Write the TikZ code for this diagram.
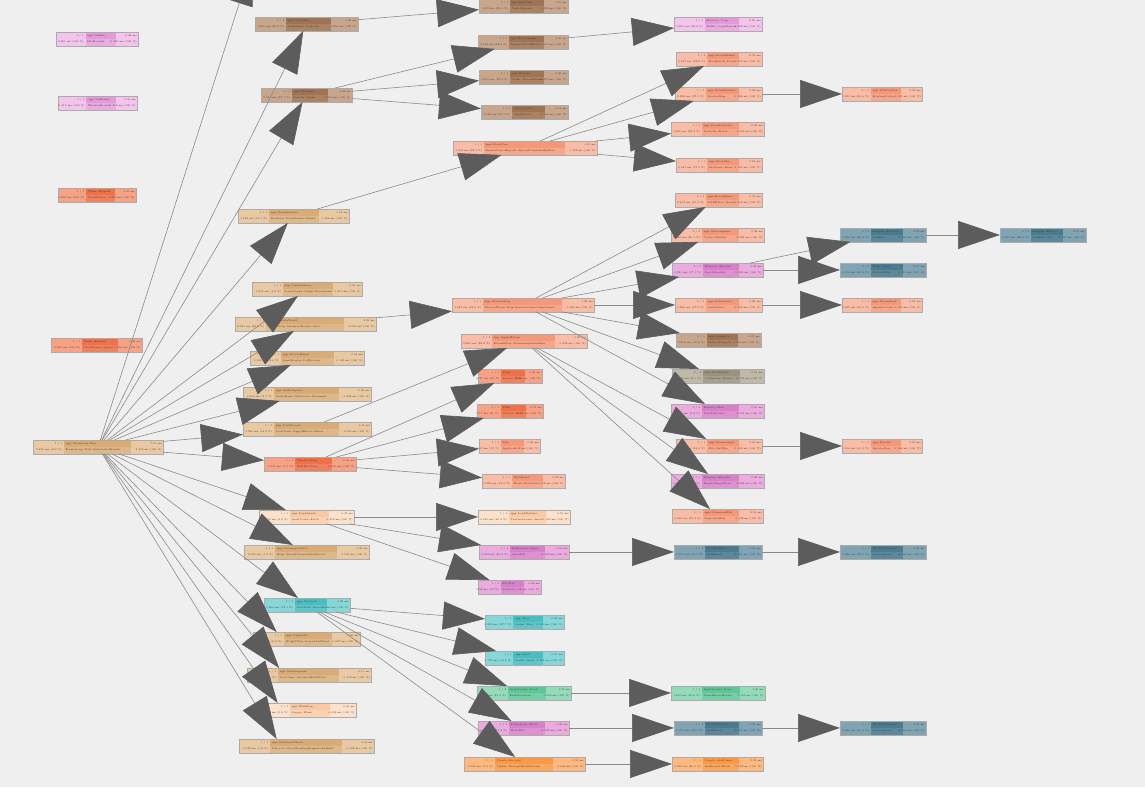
\documentclass[tikz,border=0pt]{standalone}
\usepackage{tikz}
\usetikzlibrary{arrows.meta}
\usepackage{xcolor}

\definecolor{bgc}{HTML}{EFEFEF}
\definecolor{boxline}{HTML}{ABABAB}
\definecolor{edgec}{HTML}{8A8A8A}
\definecolor{tipc}{HTML}{5C5C5C}
\definecolor{txtc}{HTML}{3A3A3A}
\newcommand{\pcolours}[4]{\definecolor{#1L}{HTML}{#2}\definecolor{#1M}{HTML}{#3}\definecolor{#1D}{HTML}{#4}}
\pcolours{pink}{F3C4EC}{EAACE0}{E39BD7}
\pcolours{magenta}{EAABDF}{DF8FD2}{D680C8}
\pcolours{salmon}{F9BCA6}{F7A689}{F39878}
\pcolours{red}{F7A285}{F1815D}{EE714A}
\pcolours{brown}{C7A68D}{AB8262}{9F7455}
\pcolours{tan}{E8C9A3}{DFB889}{D8AB77}
\pcolours{peach}{FDE2CB}{FCD3B2}{FAC8A2}
\pcolours{teal}{87D7D9}{5DC6C9}{4BBDC1}
\pcolours{steel}{80A4B3}{5B889A}{4D7B8E}
\pcolours{green}{93DBBB}{73CFA6}{60C697}
\pcolours{orange}{FDB980}{FBA65C}{FA9A49}
\pcolours{olive}{C0B9A8}{A79F8D}{9A927D}

\tikzset{
  pbox/.style={inner sep=0pt,minimum height=13.5pt,rectangle},
  ptxt/.style={inner sep=0pt,font=\fontsize{2.5}{6}\selectfont,text=txtc},
  call/.style={draw=edgec,line width=0.6pt,-{Triangle[length=42pt,width=28pt,color=tipc]}}
}

% name, x,y (top left), width, colour, left, function, detail, right
\newcommand{\prof}[8]{%
  \pgfmathsetmacro\pl{min(31,0.36*#3)}%
  \pgfmathsetmacro\pr{min(32,0.27*#3)}%
  \node[pbox,minimum width=#3pt,anchor=north west,fill=#4L] (#1) at (#2) {};
  \fill[#4M] ([xshift=\pl pt]#1.west) rectangle ([xshift=-\pr pt]#1.south east);
  \fill[#4D] ([xshift=\pl pt]#1.north west) rectangle ([xshift=-\pr pt]#1.east);
  \draw[boxline,line width=0.8pt] (#1.north west) rectangle (#1.south east);
  \node[ptxt,align=right,anchor=east] at ([xshift=\pl pt-1.5pt]#1.west) {#5};
  \node[ptxt,align=left,anchor=west] at ([xshift=\pl pt+1.5pt]#1.west) {#6\\#7};
  \node[ptxt,align=right,anchor=east] at ([xshift=-1.5pt]#1.east) {#8};
}

\begin{document}
\begin{tikzpicture}[x=1pt,y=-1pt,line cap=round]
\useasboundingbox (0,0) rectangle (1145,787);
\fill[bgc] (0,0) rectangle (1145,787);

\prof{A1}{56,32}{82}{pink}{1 / 1\\0.481 ms (100 \%)}{app::OnIdle}{IdleHandler}{0.48 ms\\0.481 ms (100 \%)}
\prof{A2}{58,96}{79}{pink}{1 / 1\\0.415 ms (100 \%)}{app::OnResize}{WindowEvents}{0.41 ms\\0.415 ms (100 \%)}
\prof{A3}{58,188}{78}{red}{1 / 1\\0.212 ms (100 \%)}{Timer::Elapsed}{ClockSource}{0.21 ms\\0.212 ms (100 \%)}
\prof{A4}{51,338}{91}{red}{1 / 1\\0.360 ms (100 \%)}{Timer::Elapsed}{ClockSource::Query}{0.36 ms\\0.360 ms (100 \%)}
\prof{R}{33,440}{130}{tan}{1 / 1\\7.155 ms (100 \%)}{app::MainLoop::Run}{FrameLoop::Tick::UpdateAndRender}{7.15 ms\\7.155 ms (100 \%)}

\prof{B1}{255,17}{103}{brown}{1 / 1\\1.850 ms (25.9 \%)}{app::Scheduler}{TaskQueue::Dispatch}{1.85 ms\\1.850 ms (100 \%)}
\prof{B2}{261,88}{91}{brown}{1 / 1\\0.940 ms (13.1 \%)}{app::Streamer}{Stream::Pump}{0.94 ms\\0.940 ms (100 \%)}
\prof{B3}{238,209}{111}{tan}{1 / 1\\1.184 ms (16.5 \%)}{app::FrameRender}{Renderer::DrawFrame::Submit}{1.18 ms\\1.184 ms (100 \%)}
\prof{B4}{252,282}{110}{tan}{1 / 1\\0.311 ms (4.3 \%)}{app::UpdateScene}{SceneGraph::UpdateTransforms}{0.31 ms\\0.311 ms (100 \%)}
\prof{B5}{235,317}{141}{tan}{1 / 1\\2.091 ms (29.2 \%)}{app::SimulateWorld}{World::Step::IntegrateBodies::Solve}{2.09 ms\\2.091 ms (100 \%)}
\prof{B6}{250,351}{114}{tan}{1 / 1\\0.185 ms (2.6 \%)}{app::ProcessInput}{InputRouter::PollDevices}{0.18 ms\\0.185 ms (100 \%)}
\prof{B7}{243,387}{128}{tan}{1 / 1\\0.263 ms (3.7 \%)}{app::AudioUpdate}{AudioMixer::MixVoices::Resample}{0.26 ms\\0.263 ms (100 \%)}
\prof{B8}{243,422}{128}{tan}{1 / 1\\1.020 ms (14.3 \%)}{app::PostProcess}{PostChain::ApplyEffects::Blend}{1.02 ms\\1.020 ms (100 \%)}
\prof{B9}{264,457}{92}{red}{1 / 1\\0.540 ms (7.5 \%)}{Thread::Sleep}{WaitForVSync}{0.54 ms\\0.540 ms (100 \%)}
\prof{B10}{259,510}{95}{peach}{1 / 1\\0.472 ms (6.6 \%)}{app::LoadAssets}{AssetCache::Fetch}{0.47 ms\\0.472 ms (100 \%)}
\prof{B11}{244,545}{125}{tan}{1 / 1\\0.095 ms (1.3 \%)}{app::GarbageCollect}{Heap::SweepUnreachableObjects}{0.09 ms\\0.095 ms (100 \%)}
\prof{B12}{264,598}{86}{teal}{1 / 1\\0.866 ms (12.1 \%)}{app::Network}{NetClient::Receive}{0.86 ms\\0.866 ms (100 \%)}
\prof{B13}{253,632}{107}{tan}{1 / 1\\0.067 ms (0.9 \%)}{app::UpdateUI}{WidgetTree::LayoutAndPaint}{0.06 ms\\0.067 ms (100 \%)}
\prof{B14}{247,668}{124}{tan}{1 / 1\\0.112 ms (1.6 \%)}{app::SaveProgress}{SaveGame::SerializeWorldState}{0.11 ms\\0.112 ms (100 \%)}
\prof{B15}{259,703}{97}{peach}{1 / 1\\0.058 ms (0.8 \%)}{app::FlushLog}{Logger::Flush}{0.05 ms\\0.058 ms (100 \%)}
\prof{B16}{239,739}{135}{tan}{1 / 1\\0.128 ms (1.8 \%)}{app::ShutdownCheck}{Lifecycle::CheckPendingRequestsAndExit}{0.12 ms\\0.128 ms (100 \%)}

\prof{C1}{479,-1}{89}{brown}{1 / 1\\1.102 ms (59.6 \%)}{app::RunTask}{Task::Execute}{1.10 ms\\1.102 ms (100 \%)}
\prof{C2}{478,35}{90}{brown}{1 / 1\\0.412 ms (43.8 \%)}{app::ReadChunk}{Stream::ReadBlock}{0.41 ms\\0.412 ms (100 \%)}
\prof{C3}{479,70}{89}{brown}{1 / 1\\0.305 ms (32.4 \%)}{app::Decode}{Codec::DecodeFrame}{0.30 ms\\0.305 ms (100 \%)}
\prof{C4}{481,105}{87}{brown}{1 / 1\\0.148 ms (15.7 \%)}{app::Upload}{GpuUpload}{0.14 ms\\0.148 ms (100 \%)}
\prof{C5}{453,141}{144}{salmon}{1 / 1\\1.102 ms (93.1 \%)}{app::DrawPass}{RenderPass::Execute::RecordCommandBuffers}{1.10 ms\\1.102 ms (100 \%)}
\prof{C6}{452,298}{142}{salmon}{1 / 1\\1.934 ms (92.5 \%)}{app::PhysicsStep}{PhysicsWorld::Step::ResolveContactsAndJoints}{1.93 ms\\1.934 ms (100 \%)}
\prof{C7}{461,334}{126}{salmon}{1 / 1\\0.906 ms (88.8 \%)}{app::ApplyBloom}{BloomFilter::DownsampleAndBlur}{0.90 ms\\0.906 ms (100 \%)}
\prof{C8}{478,369}{64}{red}{1 / 1\\0.21 ms (38 \%)}{Sleep}{Kernel::Wait}{0.21 ms\\0.21 ms (100 \%)}
\prof{C9}{477,404}{66}{red}{1 / 1\\0.17 ms (31 \%)}{Yield}{Thread::Yield}{0.17 ms\\0.17 ms (100 \%)}
\prof{C10}{479,439}{61}{salmon}{1 / 1\\0.09 ms (17 \%)}{Spin}{SpinLock}{0.09 ms\\0.09 ms (100 \%)}
\prof{C11}{482,474}{83}{salmon}{1 / 1\\0.072 ms (13.3 \%)}{WaitEvent}{Event::WaitOne}{0.07 ms\\0.072 ms (100 \%)}
\prof{C12}{478,510}{92}{peach}{1 / 1\\0.190 ms (40.3 \%)}{app::LoadTexture}{TextureLoader::Read}{0.19 ms\\0.190 ms (100 \%)}
\prof{C13}{479,545}{90}{magenta}{1 / 1\\0.162 ms (34.3 \%)}{FileSystem::Open}{OpenFile}{0.16 ms\\0.162 ms (100 \%)}
\prof{C14}{478,580}{63}{magenta}{1 / 1\\0.08 ms (17 \%)}{FS::Stat}{StatFile}{0.08 ms\\0.08 ms (100 \%)}
\prof{C15}{485,615}{79}{teal}{1 / 1\\0.240 ms (27.7 \%)}{app::Recv}{Socket::Recv}{0.24 ms\\0.240 ms (100 \%)}
\prof{C16}{485,651}{79}{teal}{1 / 1\\0.172 ms (19.9 \%)}{app::Send}{Socket::Send}{0.17 ms\\0.172 ms (100 \%)}
\prof{C17}{477,686}{94}{green}{1 / 3\\1.870 ms (21.6 \%)}{AssetLoader::Load}{ExtFilesystem}{1.57 ms\\1.550 ms (100 \%)}
\prof{C18}{478,721}{91}{magenta}{1 / 1\\0.098 ms (11.3 \%)}{FileSystem::Write}{WriteFile}{0.09 ms\\0.098 ms (100 \%)}
\prof{C19}{464,757}{121}{orange}{1 / 1\\0.065 ms (7.5 \%)}{Crypto::Decrypt}{Cipher::DecryptBlockStream}{0.06 ms\\0.065 ms (100 \%)}

\prof{D1}{674,17}{88}{pink}{1 / 1\\0.205 ms (49.8 \%)}{Memory::Copy}{Buffer::CopyRegion}{0.20 ms\\0.205 ms (100 \%)}
\prof{D2}{676,52}{86}{salmon}{1 / 1\\0.317 ms (28.8 \%)}{app::DrawMeshes}{MeshBatch::Draw}{0.31 ms\\0.317 ms (100 \%)}
\prof{D3}{675,87}{87}{salmon}{1 / 1\\0.298 ms (27.0 \%)}{app::DrawShadows}{ShadowMap}{0.29 ms\\0.298 ms (100 \%)}
\prof{D4}{671,122}{93}{salmon}{1 / 1\\0.245 ms (22.2 \%)}{app::DrawParticles}{Particles::Batch}{0.24 ms\\0.245 ms (100 \%)}
\prof{D5}{676,158}{86}{salmon}{1 / 1\\0.187 ms (17.0 \%)}{app::DrawSky}{SkyDome::Draw}{0.18 ms\\0.187 ms (100 \%)}
\prof{D6}{675,193}{87}{salmon}{5 / 5\\0.412 ms (21.3 \%)}{app::Broadphase}{AABBTree::Query}{0.41 ms\\0.412 ms (100 \%)}
\prof{D7}{671,228}{93}{salmon}{5 / 5\\0.388 ms (20.1 \%)}{app::Narrowphase}{ContactBuilder}{0.38 ms\\0.388 ms (100 \%)}
\prof{D8}{672,263}{91}{magenta}{5 / 5\\0.331 ms (17.1 \%)}{Memory::Allocate}{PoolAllocator}{0.33 ms\\0.331 ms (100 \%)}
\prof{D9}{675,298}{87}{salmon}{5 / 5\\0.296 ms (15.3 \%)}{app::SolveJoints}{JointSolver}{0.29 ms\\0.296 ms (100 \%)}
\prof{D10}{676,333}{85}{brown}{5 / 5\\0.210 ms (10.9 \%)}{app::Integrate}{Body::Integrate}{0.21 ms\\0.210 ms (100 \%)}
\prof{D11}{672,369}{92}{olive}{3 / 3\\0.156 ms (8.1 \%)}{Job::WaitForAll}{JobSystem::Barrier}{0.15 ms\\0.156 ms (100 \%)}
\prof{D12}{671,404}{93}{magenta}{5 / 5\\0.101 ms (5.2 \%)}{Memory::Free}{PoolAllocator}{0.10 ms\\0.101 ms (100 \%)}
\prof{D13}{676,439}{86}{salmon}{1 / 1\\0.402 ms (44.4 \%)}{app::Downsample}{Blit::HalfRes}{0.40 ms\\0.402 ms (100 \%)}
\prof{D14}{671,474}{93}{magenta}{1 / 1\\0.288 ms (31.8 \%)}{Memory::Allocate}{RenderTargetPool}{0.28 ms\\0.288 ms (100 \%)}
\prof{D15}{672,509}{91}{salmon}{1 / 1\\0.198 ms (21.9 \%)}{app::GaussianBlur}{SeparableBlur}{0.19 ms\\0.198 ms (100 \%)}
\prof{D16}{674,545}{88}{steel}{1 / 1\\0.121 ms (74.7 \%)}{IO::ReadSync}{DiskRead}{0.12 ms\\0.121 ms (100 \%)}
\prof{D17}{671,686}{94}{green}{1 / 1\\1.405 ms (90.6 \%)}{AssetLoader::Parse}{ParseBinaryHeader}{1.40 ms\\1.405 ms (100 \%)}
\prof{D18}{674,721}{88}{steel}{1 / 1\\0.071 ms (72.4 \%)}{IO::WriteSync}{DiskWrite}{0.07 ms\\0.071 ms (100 \%)}
\prof{D19}{672,757}{91}{orange}{1 / 1\\0.052 ms (80.0 \%)}{Crypto::AesRound}{AesRound::Block}{0.05 ms\\0.052 ms (100 \%)}

\prof{E1}{842,87}{80}{salmon}{1 / 1\\0.091 ms (30.6 \%)}{app::CullCasters}{FrustumCuller}{0.09 ms\\0.091 ms (100 \%)}
\prof{E2}{840,228}{86}{steel}{0 / 0\\0.120 ms (36.3 \%)}{Sampler::Prefetch}{Sampler}{0.12 ms\\0.120 ms (100 \%)}
\prof{E3}{840,263}{86}{steel}{0 / 0\\0.114 ms (34.4 \%)}{Heap::Grow}{VirtualAlloc}{0.11 ms\\0.114 ms (100 \%)}
\prof{E4}{842,298}{80}{salmon}{1 / 1\\0.135 ms (45.6 \%)}{app::WarmStart}{ImpulseCache}{0.13 ms\\0.135 ms (100 \%)}
\prof{E5}{842,439}{80}{salmon}{1 / 1\\0.166 ms (41.3 \%)}{app::Resolve}{ResolvePass}{0.16 ms\\0.166 ms (100 \%)}
\prof{E6}{840,545}{86}{steel}{1 / 1\\0.088 ms (72.7 \%)}{IO::WaitDevice}{DeviceQueue}{0.08 ms\\0.088 ms (100 \%)}
\prof{E7}{840,721}{86}{steel}{1 / 1\\0.050 ms (70.4 \%)}{IO::WaitDevice}{DeviceQueue}{0.05 ms\\0.050 ms (100 \%)}
\prof{F1}{1000,228}{86}{steel}{0 / 0\\0.107 ms (89.6 \%)}{Sampler::Fetch}{Sampler::Get}{0.10 ms\\0.107 ms (100 \%)}

\coordinate (Rup) at (252,-37);
\draw[call] (R) -- (Rup);
\foreach \t in {B1,B2,B3,B4,B5,B6,B7,B8,B9,B10,B11,B12}
  \draw[call] (R) -- (\t);
\foreach \t in {B13,B14,B15,B16}
  \draw[call] (R) -- ([xshift=-30pt]\t.north);
\draw[call] (B1) -- (C1);
\foreach \t in {C2,C3,C4} \draw[call] (B2) -- (\t);
\draw[call] (C2) -- (D1);
\draw[call] (B3) -- (C5);
\foreach \t in {D2,D3,D4,D5} \draw[call] (C5) -- (\t);
\draw[call] (D3) -- (E1);
\draw[call] (B5) -- (C6);
\foreach \t in {D6,D7,D8,D9,D10,D11,D12} \draw[call] (C6) -- (\t);
\draw[call] (B8) -- (C7);
\foreach \t in {D13,D14,D15} \draw[call] (C7) -- (\t);
\draw[call] (D8) -- (E2);
\draw[call] (D8) -- (E3);
\draw[call] (E2) -- (F1);
\draw[call] (D9) -- (E4);
\draw[call] (D13) -- (E5);
\foreach \t in {C8,C9,C10,C11} \draw[call] (B9) -- (\t);
\foreach \t in {C12,C13,C14} \draw[call] (B10) -- (\t);
\draw[call] (C13) -- (D16);
\draw[call] (D16) -- (E6);
\foreach \t in {C15,C16,C17,C18,C19} \draw[call] (B12) -- (\t);
\draw[call] (C17) -- (D17);
\draw[call] (C18) -- (D18);
\draw[call] (D18) -- (E7);
\draw[call] (C19) -- (D19);
\end{tikzpicture}
\end{document}
